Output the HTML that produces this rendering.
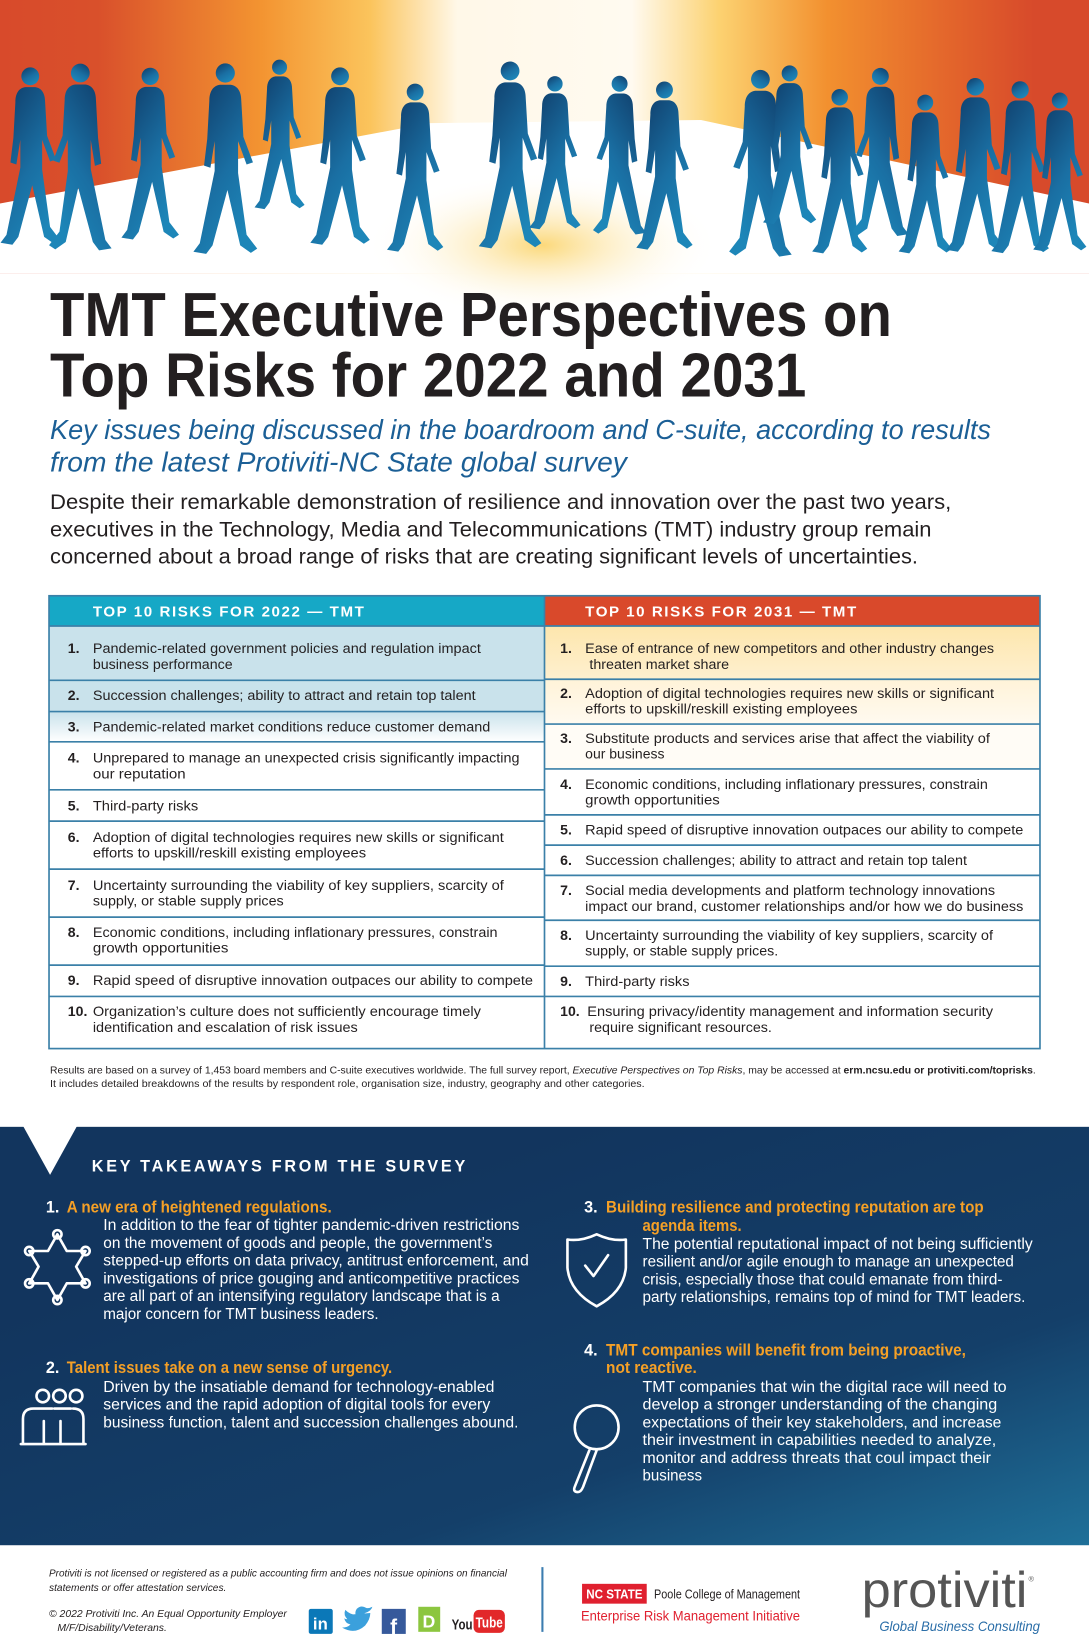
<!DOCTYPE html>
<html><head><meta charset="utf-8"><style>html,body{margin:0;padding:0;background:#fff}svg{display:block}</style></head>
<body>
<svg xmlns="http://www.w3.org/2000/svg" width="1089" height="1636" viewBox="0 0 1044 1568" preserveAspectRatio="none" font-family="'Liberation Sans', sans-serif">
<defs>
<linearGradient id="hbg" x1="0" y1="0" x2="1" y2="0">
<stop offset="0" stop-color="#d84a2b"/><stop offset="0.09" stop-color="#d9502b"/><stop offset="0.24" stop-color="#f39431"/><stop offset="0.34" stop-color="#fbc45c"/><stop offset="0.42" stop-color="#fff8e8"/><stop offset="0.58" stop-color="#fffaf0"/><stop offset="0.66" stop-color="#fcd271"/><stop offset="0.76" stop-color="#f2902f"/><stop offset="0.88" stop-color="#e2622b"/><stop offset="0.95" stop-color="#d74a2b"/>
</linearGradient>
<radialGradient id="glow" cx="0.5" cy="0.5" r="0.5"><stop offset="0" stop-color="#fbd46b" stop-opacity="0.9"/><stop offset="1" stop-color="#fff" stop-opacity="0"/></radialGradient>
<linearGradient id="pb" x1="0" y1="0" x2="0.6" y2="1"><stop offset="0" stop-color="#0f3a66"/><stop offset="0.6" stop-color="#1a6fa3"/><stop offset="1" stop-color="#1d86b8"/></linearGradient>
<g id="p">
<circle cx="0" cy="-2" r="9"/>
<path d="M-5,9 C-12,10 -15,16 -15,24 L-17,60 L-20,85 L-14,87 L-10,62 L-10,90 L-24,158 L-30,166 L-18,168 L-12,160 L2,108 L14,160 L24,167 L30,163 L20,150 L12,92 L12,62 L20,84 L26,82 L17,58 L15,24 C15,16 12,10 5,9 Z"/>
</g>
<linearGradient id="dk" x1="0.3" y1="0.2" x2="1" y2="1"><stop offset="0" stop-color="#12355e"/><stop offset="0.6" stop-color="#143f69"/><stop offset="1" stop-color="#1f7099"/></linearGradient>
<linearGradient id="l3" x1="0" y1="0" x2="0" y2="1"><stop offset="0" stop-color="#c9e2eb"/><stop offset="1" stop-color="#fff"/></linearGradient>
<linearGradient id="r1" x1="0" y1="0" x2="0" y2="1"><stop offset="0" stop-color="#fde6ad"/><stop offset="1" stop-color="#fef0cf"/></linearGradient>
<linearGradient id="r2" x1="0" y1="0" x2="0" y2="1"><stop offset="0" stop-color="#fff3d8"/><stop offset="1" stop-color="#fffaf0"/></linearGradient>
</defs>

<!-- header -->
<rect x="0" y="0" width="1044" height="262" fill="url(#hbg)"/>
<path d="M0,195 L412,118 L672,115 L1044,195 L1044,262 L0,262 Z" fill="#fff"/>
<ellipse cx="520" cy="235" rx="170" ry="70" fill="url(#glow)"/>
<g fill="url(#pb)">
<use href="#p" transform="translate(29,75) scale(0.95)"/>
<use href="#p" transform="translate(77,72) scale(-1,1)"/>
<use href="#p" transform="translate(144,75) scale(0.92)"/>
<use href="#p" transform="translate(216,72) scale(1.02)"/>
<use href="#p" transform="translate(268,66) scale(0.8)"/>
<use href="#p" transform="translate(326,75) scale(0.95)"/>
<use href="#p" transform="translate(398,90) scale(0.9)"/>
<use href="#p" transform="translate(489,70) scale(1.0)"/>
<use href="#p" transform="translate(532,82) scale(0.82)"/>
<use href="#p" transform="translate(594,82) scale(-0.85,0.85)"/>
<use href="#p" transform="translate(637,88) scale(0.9)"/>
<use href="#p" transform="translate(729,78) scale(-1,1)"/>
<use href="#p" transform="translate(757,72) scale(0.85)"/>
<use href="#p" transform="translate(805,95) scale(0.88)"/>
<use href="#p" transform="translate(844,75) scale(-0.9,0.9)"/>
<use href="#p" transform="translate(887,100) scale(0.85)"/>
<use href="#p" transform="translate(935,85) scale(0.93)"/>
<use href="#p" transform="translate(978,88) scale(0.92)"/>
<use href="#p" transform="translate(1016,98) scale(0.85)"/>
</g>

<!-- title -->
<g fill="#231f20" font-weight="bold" font-size="60">
<text x="48" y="322" textLength="807" lengthAdjust="spacingAndGlyphs">TMT Executive Perspectives on</text>
<text x="48" y="380" textLength="725" lengthAdjust="spacingAndGlyphs">Top Risks for 2022 and 2031</text>
</g>
<g fill="#1b5f96" font-style="italic" font-size="27">
<text x="48" y="421" textLength="902" lengthAdjust="spacingAndGlyphs">Key issues being discussed in the boardroom and C-suite, according to results</text>
<text x="48" y="452" textLength="553" lengthAdjust="spacingAndGlyphs">from the latest Protiviti-NC State global survey</text>
</g>
<g fill="#231f20" font-size="20.5">
<text x="48" y="488" textLength="864" lengthAdjust="spacingAndGlyphs">Despite their remarkable demonstration of resilience and innovation over the past two years,</text>
<text x="48" y="514" textLength="845" lengthAdjust="spacingAndGlyphs">executives in the Technology, Media and Telecommunications (TMT) industry group remain</text>
<text x="48" y="540" textLength="832" lengthAdjust="spacingAndGlyphs">concerned about a broad range of risks that are creating significant levels of uncertainties.</text>
</g>

<!-- table -->
<rect x="47" y="571" width="475" height="29" fill="#16a8c6"/>
<rect x="522" y="571" width="475" height="29" fill="#d9492b"/>
<rect x="47" y="600" width="475" height="52" fill="#c9e2eb"/>
<rect x="47" y="652" width="475" height="30" fill="#c9e2eb"/>
<rect x="47" y="682" width="475" height="29" fill="url(#l3)"/>
<rect x="522" y="600" width="475" height="51" fill="url(#r1)"/>
<rect x="522" y="651" width="475" height="43" fill="url(#r2)"/>
<rect x="522" y="694" width="475" height="43" fill="#fffcf6"/>
<g stroke="#3b80a8" stroke-width="1.6" fill="none">
<rect x="47" y="571" width="950" height="434"/>
<line x1="522" y1="571" x2="522" y2="1005"/>
<line x1="47" y1="600" x2="997" y2="600"/>
<path d="M47,652H522M47,682H522M47,711H522M47,757H522M47,787H522M47,833H522M47,879H522M47,925H522M47,955H522"/>
<path d="M522,651H997M522,694H997M522,737H997M522,781H997M522,810H997M522,839H997M522,882H997M522,926H997M522,955H997"/>
</g>
<g fill="#fff" font-weight="bold" font-size="14.5" letter-spacing="1.5">
<text x="89" y="591">TOP 10 RISKS FOR 2022 — TMT</text>
<text x="561" y="591">TOP 10 RISKS FOR 2031 — TMT</text>
</g>
<g fill="#231f20" font-size="13.5">
<g font-weight="bold">
<text x="65" y="626">1.</text><text x="65" y="671">2.</text><text x="65" y="701">3.</text><text x="65" y="731">4.</text><text x="65" y="777">5.</text><text x="65" y="807">6.</text><text x="65" y="853">7.</text><text x="65" y="898">8.</text><text x="65" y="944">9.</text><text x="65" y="974">10.</text>
<text x="537" y="626">1.</text><text x="537" y="669">2.</text><text x="537" y="712">3.</text><text x="537" y="756">4.</text><text x="537" y="800">5.</text><text x="537" y="829">6.</text><text x="537" y="858">7.</text><text x="537" y="901">8.</text><text x="537" y="945">9.</text><text x="537" y="974">10.</text>
</g>
<text x="89" y="626" textLength="372" lengthAdjust="spacingAndGlyphs">Pandemic-related government policies and regulation impact</text>
<text x="89" y="641" textLength="134" lengthAdjust="spacingAndGlyphs">business performance</text>
<text x="89" y="671" textLength="367" lengthAdjust="spacingAndGlyphs">Succession challenges; ability to attract and retain top talent</text>
<text x="89" y="701" textLength="381" lengthAdjust="spacingAndGlyphs">Pandemic-related market conditions reduce customer demand</text>
<text x="89" y="731" textLength="409" lengthAdjust="spacingAndGlyphs">Unprepared to manage an unexpected crisis significantly impacting</text>
<text x="89" y="746" textLength="89" lengthAdjust="spacingAndGlyphs">our reputation</text>
<text x="89" y="777" textLength="101" lengthAdjust="spacingAndGlyphs">Third-party risks</text>
<text x="89" y="807" textLength="394" lengthAdjust="spacingAndGlyphs">Adoption of digital technologies requires new skills or significant</text>
<text x="89" y="822" textLength="262" lengthAdjust="spacingAndGlyphs">efforts to upskill/reskill existing employees</text>
<text x="89" y="853" textLength="394" lengthAdjust="spacingAndGlyphs">Uncertainty surrounding the viability of key suppliers, scarcity of</text>
<text x="89" y="868" textLength="183" lengthAdjust="spacingAndGlyphs">supply, or stable supply prices</text>
<text x="89" y="898" textLength="388" lengthAdjust="spacingAndGlyphs">Economic conditions, including inflationary pressures, constrain</text>
<text x="89" y="913" textLength="130" lengthAdjust="spacingAndGlyphs">growth opportunities</text>
<text x="89" y="944" textLength="422" lengthAdjust="spacingAndGlyphs">Rapid speed of disruptive innovation outpaces our ability to compete</text>
<text x="89" y="974" textLength="372" lengthAdjust="spacingAndGlyphs">Organization’s culture does not sufficiently encourage timely</text>
<text x="89" y="989" textLength="254" lengthAdjust="spacingAndGlyphs">identification and escalation of risk issues</text>

<text x="561" y="626" textLength="392" lengthAdjust="spacingAndGlyphs">Ease of entrance of new competitors and other industry changes</text>
<text x="565" y="641" textLength="134" lengthAdjust="spacingAndGlyphs">threaten market share</text>
<text x="561" y="669" textLength="392" lengthAdjust="spacingAndGlyphs">Adoption of digital technologies requires new skills or significant</text>
<text x="561" y="684" textLength="261" lengthAdjust="spacingAndGlyphs">efforts to upskill/reskill existing employees</text>
<text x="561" y="712" textLength="388" lengthAdjust="spacingAndGlyphs">Substitute products and services arise that affect the viability of</text>
<text x="561" y="727" textLength="76" lengthAdjust="spacingAndGlyphs">our business</text>
<text x="561" y="756" textLength="386" lengthAdjust="spacingAndGlyphs">Economic conditions, including inflationary pressures, constrain</text>
<text x="561" y="771" textLength="129" lengthAdjust="spacingAndGlyphs">growth opportunities</text>
<text x="561" y="800" textLength="420" lengthAdjust="spacingAndGlyphs">Rapid speed of disruptive innovation outpaces our ability to compete</text>
<text x="561" y="829" textLength="366" lengthAdjust="spacingAndGlyphs">Succession challenges; ability to attract and retain top talent</text>
<text x="561" y="858" textLength="393" lengthAdjust="spacingAndGlyphs">Social media developments and platform technology innovations</text>
<text x="561" y="873" textLength="420" lengthAdjust="spacingAndGlyphs">impact our brand, customer relationships and/or how we do business</text>
<text x="561" y="901" textLength="391" lengthAdjust="spacingAndGlyphs">Uncertainty surrounding the viability of key suppliers, scarcity of</text>
<text x="561" y="916" textLength="185" lengthAdjust="spacingAndGlyphs">supply, or stable supply prices.</text>
<text x="561" y="945" textLength="100" lengthAdjust="spacingAndGlyphs">Third-party risks</text>
<text x="563" y="974" textLength="389" lengthAdjust="spacingAndGlyphs">Ensuring privacy/identity management and information security</text>
<text x="565" y="989" textLength="175" lengthAdjust="spacingAndGlyphs">require significant resources.</text>
</g>

<g fill="#231f20" font-size="9.5">
<text x="48" y="1029" textLength="945" lengthAdjust="spacingAndGlyphs">Results are based on a survey of 1,453 board members and C-suite executives worldwide. The full survey report, <tspan font-style="italic">Executive Perspectives on Top Risks</tspan>, may be accessed at <tspan font-weight="bold">erm.ncsu.edu or protiviti.com/toprisks</tspan>.</text>
<text x="48" y="1042" textLength="570" lengthAdjust="spacingAndGlyphs">It includes detailed breakdowns of the results by respondent role, organisation size, industry, geography and other categories.</text>
</g>

<!-- dark section -->
<rect x="0" y="1080" width="1044" height="401" fill="url(#dk)"/>
<polygon points="22,1079 74,1079 48,1126" fill="#fff"/>
<text x="88" y="1123" fill="#fff" font-weight="bold" font-size="15.5" textLength="358" lengthAdjust="spacing">KEY TAKEAWAYS FROM THE SURVEY</text>

<g font-size="15.5" font-weight="bold">
<text x="44" y="1162" fill="#fff">1.</text>
<text x="64" y="1162" fill="#f5a026" textLength="254" lengthAdjust="spacingAndGlyphs">A new era of heightened regulations.</text>
<text x="44" y="1316" fill="#fff">2.</text>
<text x="64" y="1316" fill="#f5a026" textLength="312" lengthAdjust="spacingAndGlyphs">Talent issues take on a new sense of urgency.</text>
<text x="560" y="1162" fill="#fff">3.</text>
<text x="581" y="1162" fill="#f5a026" textLength="362" lengthAdjust="spacingAndGlyphs">Building resilience and protecting reputation are top</text>
<text x="616" y="1180" fill="#f5a026" textLength="95" lengthAdjust="spacingAndGlyphs">agenda items.</text>
<text x="560" y="1299" fill="#fff">4.</text>
<text x="581" y="1299" fill="#f5a026" textLength="345" lengthAdjust="spacingAndGlyphs">TMT companies will benefit from being proactive,</text>
<text x="581" y="1316" fill="#f5a026" textLength="87" lengthAdjust="spacingAndGlyphs">not reactive.</text>
</g>
<g fill="#fff" font-size="15">
<text x="99" y="1179" textLength="399" lengthAdjust="spacingAndGlyphs">In addition to the fear of tighter pandemic-driven restrictions</text>
<text x="99" y="1196" textLength="373" lengthAdjust="spacingAndGlyphs">on the movement of goods and people, the government’s</text>
<text x="99" y="1213" textLength="408" lengthAdjust="spacingAndGlyphs">stepped-up efforts on data privacy, antitrust enforcement, and</text>
<text x="99" y="1230" textLength="399" lengthAdjust="spacingAndGlyphs">investigations of price gouging and anticompetitive practices</text>
<text x="99" y="1247" textLength="380" lengthAdjust="spacingAndGlyphs">are all part of an intensifying regulatory landscape that is a</text>
<text x="99" y="1264" textLength="264" lengthAdjust="spacingAndGlyphs">major concern for TMT business leaders.</text>
<text x="99" y="1334" textLength="375" lengthAdjust="spacingAndGlyphs">Driven by the insatiable demand for technology-enabled</text>
<text x="99" y="1351" textLength="371" lengthAdjust="spacingAndGlyphs">services and the rapid adoption of digital tools for every</text>
<text x="99" y="1368" textLength="398" lengthAdjust="spacingAndGlyphs">business function, talent and succession challenges abound.</text>
<text x="616" y="1197" textLength="374" lengthAdjust="spacingAndGlyphs">The potential reputational impact of not being sufficiently</text>
<text x="616" y="1214" textLength="356" lengthAdjust="spacingAndGlyphs">resilient and/or agile enough to manage an unexpected</text>
<text x="616" y="1231" textLength="345" lengthAdjust="spacingAndGlyphs">crisis, especially those that could emanate from third-</text>
<text x="616" y="1248" textLength="367" lengthAdjust="spacingAndGlyphs">party relationships, remains top of mind for TMT leaders.</text>
<text x="616" y="1334" textLength="349" lengthAdjust="spacingAndGlyphs">TMT companies that win the digital race will need to</text>
<text x="616" y="1351" textLength="340" lengthAdjust="spacingAndGlyphs">develop a stronger understanding of the changing</text>
<text x="616" y="1368" textLength="344" lengthAdjust="spacingAndGlyphs">expectations of their key stakeholders, and increase</text>
<text x="616" y="1385" textLength="339" lengthAdjust="spacingAndGlyphs">their investment in capabilities needed to analyze,</text>
<text x="616" y="1402" textLength="334" lengthAdjust="spacingAndGlyphs">monitor and address threats that coul impact their</text>
<text x="616" y="1419" textLength="57" lengthAdjust="spacingAndGlyphs">business</text>
</g>

<!-- icons -->
<g stroke="#fff" stroke-width="2.5" fill="none" stroke-linejoin="round" stroke-linecap="round">
<path d="M55,1183 L64,1199 L82,1199 L73,1214 L82,1230 L64,1230 L55,1246 L46,1230 L28,1230 L37,1214 L28,1199 L46,1199 Z"/>
<circle cx="55" cy="1183" r="4"/><circle cx="82" cy="1199" r="4"/><circle cx="82" cy="1230" r="4"/><circle cx="55" cy="1246" r="4"/><circle cx="28" cy="1230" r="4"/><circle cx="28" cy="1199" r="4"/>
<path d="M572,1183 Q587,1190 600,1188 L600,1215 Q598,1238 572,1252 Q546,1238 544,1215 L544,1188 Q557,1190 572,1183 Z"/>
<path d="M561,1213 L569,1223 L583,1203"/>
<circle cx="41" cy="1338" r="6"/><circle cx="57" cy="1338" r="6"/><circle cx="73" cy="1338" r="6"/>
<path d="M22,1384 L22,1360 Q22,1350 32,1350 M42,1384 L42,1362 M58,1384 L58,1362 M80,1384 L80,1360 Q80,1350 70,1350 M20,1384 L82,1384 M32,1350 L50,1350 M52,1350 L68,1350"/>
<circle cx="572" cy="1368" r="21"/>
<path d="M565,1390 L551,1425 Q549,1430 554,1430 Q557,1430 559,1425 L572,1390"/>
</g>

<!-- footer -->
<g fill="#231f20" font-style="italic" font-size="9.5">
<text x="47" y="1511" textLength="439" lengthAdjust="spacingAndGlyphs">Protiviti is not licensed or registered as a public accounting firm and does not issue opinions on financial</text>
<text x="47" y="1525" textLength="170" lengthAdjust="spacingAndGlyphs">statements or offer attestation services.</text>
<text x="47" y="1550" textLength="228" lengthAdjust="spacingAndGlyphs">© 2022 Protiviti Inc. An Equal Opportunity Employer</text>
<text x="55" y="1563" textLength="105" lengthAdjust="spacingAndGlyphs">M/F/Disability/Veterans.</text>
</g>
<rect x="296" y="1542" width="23" height="24" fill="#0b78b8" rx="2"/>
<text x="300" y="1562" fill="#fff" font-weight="bold" font-size="16">in</text>
<path d="M330,1548 Q342,1552 350,1546 Q356,1544 357,1540 Q353,1542 351,1541 Q346,1538 342,1542 Q340,1545 341,1548 Q335,1547 331,1543 Q329,1548 333,1552 Q331,1552 330,1551 Q331,1556 336,1557 Q333,1560 328,1560 Q340,1567 350,1558 Q355,1552 355,1546" fill="#3ba0dc"/>
<rect x="366" y="1542" width="23" height="24" fill="#36599b"/>
<text x="374" y="1566" fill="#fff" font-weight="bold" font-size="20">f</text>
<rect x="401" y="1540" width="21" height="24" fill="#8cc63f"/>
<text x="405" y="1560" fill="#fff" font-weight="bold" font-size="17">D</text>
<text x="433" y="1562" fill="#231f20" font-weight="bold" font-size="14" textLength="20" lengthAdjust="spacingAndGlyphs">You</text>
<rect x="454" y="1543" width="30" height="22" rx="5" fill="#e2282a"/>
<text x="456" y="1560" fill="#fff" font-weight="bold" font-size="14" textLength="26" lengthAdjust="spacingAndGlyphs">Tube</text>
<line x1="520" y1="1502" x2="520" y2="1564" stroke="#3c7db0" stroke-width="2"/>
<rect x="558" y="1518" width="62" height="19" fill="#e0202f"/>
<text x="562" y="1532" fill="#fff" font-weight="bold" font-size="12" textLength="54" lengthAdjust="spacingAndGlyphs">NC STATE</text>
<text x="627" y="1532" fill="#231f20" font-size="12" textLength="140" lengthAdjust="spacingAndGlyphs">Poole College of Management</text>
<text x="557" y="1553" fill="#e0202f" font-size="13" textLength="210" lengthAdjust="spacingAndGlyphs">Enterprise Risk Management Initiative</text>
<text x="826" y="1540" fill="#555" font-size="48" textLength="159" lengthAdjust="spacingAndGlyphs">protiviti</text>
<text x="986" y="1516" fill="#555" font-size="7">®</text>
<text x="843" y="1563" fill="#2b6ea8" font-style="italic" font-size="13" textLength="154" lengthAdjust="spacingAndGlyphs">Global Business Consulting</text>
</svg>
</body></html>
